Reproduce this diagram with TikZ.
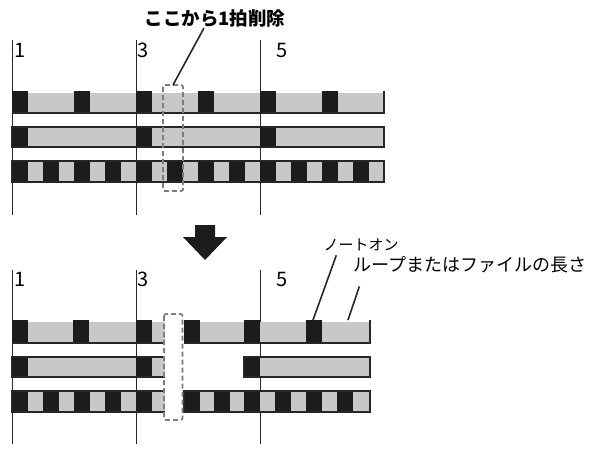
\documentclass[tikz,border=0pt]{standalone}
\usepackage{fontspec}
\newfontfamily\jpfont{Noto Sans CJK JP}
\usetikzlibrary{calc, positioning}
\definecolor{lanegray}{RGB}{200,200,200}
\definecolor{hitblack}{RGB}{28,28,28}
\definecolor{cutgray}{RGB}{125,125,125}

\begin{document}
\begin{tikzpicture}[x=1pt, y=-1pt,
   bar/.style={draw=black!85, line width=0.9pt},
   lane/.style={fill=lanegray},
   rim/.style={draw=black!85, line width=1.3pt},
   hit/.style={fill=hitblack},
   cut/.style={draw=cutgray, line width=1.8pt, dash pattern=on 5pt off 3pt, rounded corners=2pt},
   lead/.style={draw=black!85, line width=1.6pt},
   num/.style={anchor=west, inner sep=1pt, font=\jpfont\fontsize{20}{20}\selectfont},
   head/.style={inner sep=1pt, font=\jpfont\bfseries\fontsize{18.5}{18.5}\selectfont},
   lbl/.style={inner sep=1pt, font=\jpfont\fontsize{15}{15}\selectfont}
]
   \useasboundingbox (0,0) rectangle (595,448);

   % before: bar lines and numbers
   \foreach \x in {12,136,260} \draw[bar] (\x,40) -- (\x,215);
   \draw(13,50)  node[num] (topone)   {1};
   \draw(136,50) node[num] (topthree) {3};
   \draw(275,50) node[num] (topfive)  {5};

   % before: three lanes
   \fill[lane] (12,93) rectangle (384,113);
   \foreach \i in {0,...,5} \fill[hit] (12+62*\i,91) rectangle ++(16,22);
   \draw[rim] (12,113) -- (384,113) -- (384,91);

   \fill[lane] (12,127) rectangle (384,147);
   \foreach \x in {12,136,260} \fill[hit] (\x,127) rectangle ++(16,20);
   \draw[rim] (12,127) rectangle (384,147);

   \fill[lane] (12,161) rectangle (384,182);
   \foreach \i in {0,...,11} \fill[hit] (12+31*\i,161) rectangle ++(16,21);
   \draw[rim] (12,161) rectangle (384,182);

   % beat to delete
   \draw[cut] (163,85) rectangle (183,191);
   \coordinate (gap) at (173,85);
   \draw(215,18) node[head] (del) {ここから1拍削除};
   \draw[lead] ([xshift=-11pt]del.south) -- (gap);

   % arrow
   \fill[hitblack] (195,225) -- (215,225) -- (215,237) -- (227,237)
      -- (205,260) -- (183,237) -- (195,237) -- cycle;

   % after: bar lines and numbers
   \foreach \x in {12,136,260} \draw[bar] (\x,270) -- (\x,444);
   \draw(13,279)  node[num] (botone)   {1};
   \draw(136,279) node[num] (botthree) {3};
   \draw(275,279) node[num] (botfive)  {5};

   % after: lanes, left of the cut
   \fill[lane] (12,322) rectangle (165,343);
   \foreach \x in {12,73,136} \fill[hit] (\x,320) rectangle ++(16,23);
   \draw[rim] (12,343) -- (165,343);

   \fill[lane] (12,357) rectangle (165,377);
   \foreach \x in {12,136} \fill[hit] (\x,357) rectangle ++(16,20);
   \draw[rim] (165,357) -- (12,357) -- (12,377) -- (165,377);

   \fill[lane] (12,391) rectangle (165,412);
   \foreach \i in {0,...,4} \fill[hit] (12+31*\i,391) rectangle ++(16,21);
   \draw[rim] (165,391) -- (12,391) -- (12,412) -- (165,412);

   % after: lanes, right of the cut
   \fill[lane] (184,322) rectangle (370,343);
   \foreach \x in {184,244,306} \fill[hit] (\x,320) rectangle ++(16,23);
   \draw[rim] (184,343) -- (370,343) -- (370,320);

   \fill[lane] (244,357) rectangle (370,377);
   \fill[hit] (244,357) rectangle ++(16,20);
   \draw[rim] (244,357) rectangle (370,377);

   \fill[lane] (184,391) rectangle (370,412);
   \foreach \x in {184,214,244,275,306,337} \fill[hit] (\x,391) rectangle ++(16,21);
   \draw[rim] (184,391) rectangle (370,412);

   \draw[cut] (164,314) rectangle (182.5,420);

   % callouts
   \coordinate (onhit) at (313,320);
   \coordinate (lentip) at (348,320);
   \draw(361,245) node[lbl] (noteon) {ノートオン};
   \draw(470,265) node[lbl, font=\jpfont\fontsize{18}{18}\selectfont] (looplen) {ループまたはファイルの長さ};
   \draw[lead] ([xshift=14pt, yshift=-3pt]noteon.south west) -- (onhit);
   \draw[lead] ([xshift=7pt, yshift=-12pt]looplen.south west) -- (lentip);

\end{tikzpicture}
\end{document}
